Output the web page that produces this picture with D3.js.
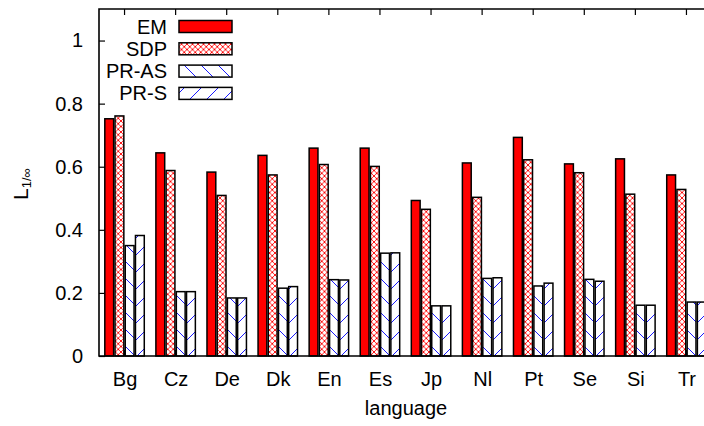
<!DOCTYPE html>
<html>
<head>
<meta charset="utf-8">
<script src="https://cdn.jsdelivr.net/npm/d3@7"></script>
<style>
  html, body { margin: 0; padding: 0; background: #fff; }
  svg { display: block; font-family: "Liberation Sans", Arial, sans-serif; }
</style>
</head>
<body>
<svg id="chart" width="704" height="426"></svg>
<script>
// Languages on the x axis
const categories = ["Bg", "Cz", "De", "Dk", "En", "Es", "Jp", "Nl", "Pt", "Se", "Si", "Tr"];

// L_{1/inf} score per language, one array per method
const emValues   = [0.752, 0.644, 0.583, 0.636, 0.659, 0.659, 0.493, 0.612, 0.693, 0.609, 0.625, 0.574];
const sdpValues  = [0.761, 0.588, 0.509, 0.574, 0.607, 0.601, 0.465, 0.503, 0.622, 0.581, 0.513, 0.528];
const prAsValues = [0.350, 0.204, 0.184, 0.215, 0.242, 0.326, 0.159, 0.246, 0.222, 0.243, 0.161, 0.171];
const prSValues  = [0.382, 0.204, 0.184, 0.220, 0.241, 0.327, 0.159, 0.248, 0.231, 0.237, 0.161, 0.171];

const seriesNames = ["EM", "SDP", "PR-AS", "PR-S"];
const yTickValues = [0, 0.2, 0.4, 0.6, 0.8, 1];
const yTickLabels = ["0", "0.2", "0.4", "0.6", "0.8", "1"];

const series = [
  { name: seriesNames[0], values: emValues,   fill: "#ff0000" },
  { name: seriesNames[1], values: sdpValues,  fill: "url(#cross)" },
  { name: seriesNames[2], values: prAsValues, fill: "url(#back)" },
  { name: seriesNames[3], values: prSValues,  fill: "url(#fwd)" }
];

const svg = d3.select("#chart");
const plotLeft = 99, plotTop = 9, plotBottom = 356, plotRight = 712;

// hatch patterns
const defs = svg.append("defs");
const cross = defs.append("pattern").attr("id", "cross")
  .attr("patternUnits", "userSpaceOnUse").attr("width", 5.5).attr("height", 5.5);
cross.append("rect").attr("width", 5.5).attr("height", 5.5).attr("fill", "#fff");
cross.append("path").attr("d", "M0,0L5.5,5.5M5.5,0L0,5.5")
  .attr("stroke", "#ff0000").attr("stroke-width", 0.9).attr("fill", "none");

const back = defs.append("pattern").attr("id", "back")
  .attr("patternUnits", "userSpaceOnUse").attr("width", 17).attr("height", 17);
back.append("rect").attr("width", 17).attr("height", 17).attr("fill", "#fff");
back.append("path").attr("d", "M-1,-1L18,18M-1,16L1,18M16,-1L18,1")
  .attr("stroke", "#1a1aff").attr("stroke-width", 1).attr("fill", "none");

const fwd = defs.append("pattern").attr("id", "fwd")
  .attr("patternUnits", "userSpaceOnUse").attr("width", 17).attr("height", 17);
fwd.append("rect").attr("width", 17).attr("height", 17).attr("fill", "#fff");
fwd.append("path").attr("d", "M-1,18L18,-1M-1,1L1,-1M16,18L18,16")
  .attr("stroke", "#1a1aff").attr("stroke-width", 1).attr("fill", "none");

// scales
const x = d3.scaleLinear().domain([-0.5, categories.length - 0.5]).range([plotLeft, plotRight]);
const y = d3.scaleLinear().domain([0, 1.1]).range([plotBottom, plotTop]);
const step = x(1) - x(0);
const barStride = step * 0.2;
const barW = barStride - 1.4;

// bottom tick marks (behind bars)
svg.append("g").selectAll("line").data(categories).join("line")
  .attr("x1", (d, i) => x(i)).attr("x2", (d, i) => x(i))
  .attr("y1", plotBottom).attr("y2", plotBottom - 6)
  .attr("stroke", "#000").attr("stroke-width", 1.2);

// bars
series.forEach((s, si) => {
  svg.append("g").selectAll("rect").data(s.values).join("rect")
    .attr("x", (d, i) => x(i) + (si - 1.5) * barStride - barW / 2)
    .attr("y", d => y(d))
    .attr("width", barW)
    .attr("height", d => y(0) - y(d))
    .attr("fill", s.fill)
    .attr("stroke", "#000")
    .attr("stroke-width", 1.5);
});

// frame
svg.append("path")
  .attr("d", `M${plotRight},${plotTop}H${plotLeft}V${plotBottom}H${plotRight}`)
  .attr("fill", "none").attr("stroke", "#000").attr("stroke-width", 1.6);

// top tick marks
svg.append("g").selectAll("line").data(categories).join("line")
  .attr("x1", (d, i) => x(i)).attr("x2", (d, i) => x(i))
  .attr("y1", plotTop).attr("y2", plotTop + 6)
  .attr("stroke", "#000").attr("stroke-width", 1.2);

// y axis
const yAxis = d3.axisLeft(y).tickValues(yTickValues)
  .tickFormat((d, i) => yTickLabels[i]).tickSizeInner(-6).tickSizeOuter(0).tickPadding(16);
const gy = svg.append("g").attr("transform", `translate(${plotLeft},0)`).call(yAxis);
gy.select(".domain").remove();
gy.selectAll(".tick line").attr("stroke", "#000").attr("stroke-width", 1.2);
gy.selectAll(".tick text").attr("font-size", 20).attr("fill", "#000")
  .attr("font-family", "Liberation Sans, Arial, sans-serif");

// x axis labels
const xAxis = d3.axisBottom(x).tickValues(d3.range(categories.length))
  .tickFormat(i => categories[i]).tickSize(0).tickPadding(16);
const gx = svg.append("g").attr("transform", `translate(0,${plotBottom})`).call(xAxis);
gx.select(".domain").remove();
gx.selectAll(".tick text").attr("font-size", 20).attr("fill", "#000")
  .attr("font-family", "Liberation Sans, Arial, sans-serif");

// axis titles
svg.append("text").attr("x", 406).attr("y", 415)
  .attr("text-anchor", "middle").attr("font-size", 20).text("language");

const yl = svg.append("text").attr("transform", "translate(28,200) rotate(-90)")
  .attr("font-size", 21);
yl.append("tspan").text("L");
yl.append("tspan").attr("font-size", 13).attr("dy", 3).text("1/∞");

// legend
const legend = svg.append("g");
series.forEach((s, i) => {
  const cy = 26.5 + i * 22.3;
  legend.append("text").attr("x", 167).attr("y", cy + 7)
    .attr("text-anchor", "end").attr("font-size", 20).text(s.name);
  legend.append("rect").attr("x", 179).attr("y", cy - 6)
    .attr("width", 53).attr("height", 12)
    .attr("fill", s.fill).attr("stroke", "#000").attr("stroke-width", 1.5);
});
</script>
</body>
</html>
